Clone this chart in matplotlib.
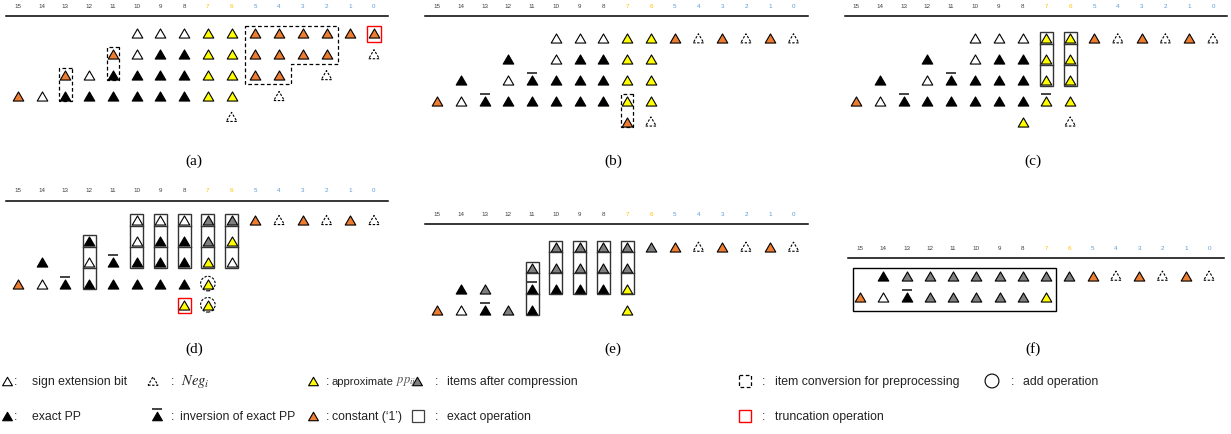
import matplotlib.pyplot as plt
from matplotlib.patches import Rectangle, Polygon
from matplotlib.path import Path

plt.rcParams['mathtext.fontset'] = 'stix'

W, H = 1231, 435
bits = list(range(15, -1, -1))
bit_colors = ['#404040'] * 8 + ['#FFC000'] * 2 + ['#5B9BD5'] * 6

# one string per row, read from bit 15 (left) to bit 0 (right); '.' = empty
# s sign extension, n Neg_i, e exact PP, i inverted exact PP,
# a approximate pp, j inverted approximate pp, c constant '1', g compressed item
rows_a = [".....sssaacccccc",
          "....cseeaacccc.n",
          "..cseeeeaacc.n..",
          "cseeeeeeaa.n....",
          ".........n......"]
rows_b = [".....sssaacncncn",
          "...e.seeaa......",
          ".e.sieeeaa......",
          "csieeeeeaa......",
          "........cn......"]
rows_c = [".....sssaacncncn",
          "...e.seeaa......",
          ".e.sieeeaa......",
          "csieeeeeja......",
          ".......a.n......"]
rows_d = [".....sssggcncncn",
          "...e.seega......",
          ".e.sieeeas......",
          "csieeeeea.......",
          ".......aa......."]
rows_e = [".....gggggcncncn",
          "....ggggg.......",
          ".eg.ieeea.......",
          "csige...a......."]
rows_f = [".eggggggggcncncn",
          "csiggggga......."]

# operations: (bit, first row, last row) / (bit, row)
exact_c = [(7, 0, 2), (6, 0, 2)]
exact_d = [(12, 1, 3), (10, 0, 2), (9, 0, 2), (8, 0, 2), (7, 0, 2), (6, 0, 2)]
exact_e = [(11, 1, 3), (10, 0, 2), (9, 0, 2), (8, 0, 2), (7, 0, 2)]
group_f = [(15, 7, 0, 1)]
prep_a = [(11, 1, 2), (13, 2, 3)]
prep_b = [(7, 3, 4)]
prep_area_a = [(5.45, -0.37), (1.5, -0.37), (1.5, 1.48), (3.5, 1.48), (3.5, 2.43), (5.45, 2.43)]
trunc_a = [(0, 0)]
trunc_d = [(8, 4)]
add_d = [(7, 3), (7, 4)]

STYLE = {
    's': ('white', 'solid'),
    'n': ('white', (0, (2.2, 1.4))),
    'e': ('black', 'solid'),
    'i': ('black', 'solid'),
    'a': ('#FFFF00', 'solid'),
    'j': ('#FFFF00', 'solid'),
    'c': ('#ED7D31', 'solid'),
    'g': ('#7F7F7F', 'solid'),
}
TRI = Path([(-1, -0.86), (1, -0.86), (0, 0.86), (-1, -0.86)],
           [Path.MOVETO, Path.LINETO, Path.LINETO, Path.CLOSEPOLY])

fig = plt.figure(figsize=(W / 100, H / 100), dpi=100)


def tri(ax, xs, ys, kind, dx, dy, s=58):
    fc, ls = STYLE[kind]
    ax.scatter(xs, ys, s=s, marker=TRI, facecolor=fc, edgecolor='black',
               linewidths=0.8, linestyles=ls, zorder=3)
    if kind in 'ij':
        for x, y in zip(xs, ys):
            ax.plot([x - 5 / dx, x + 5 / dx], [y - 7 / dy] * 2, color='#222222',
                    lw=1.2, solid_capstyle='butt', zorder=3)


def panel(rows, x15, x0, y0, dy, ylab, yline, line, cap, name,
          exact=(), prep=(), area=None, trunc=(), adds=(), group=()):
    dx = (x0 - x15) / 15
    ax = fig.add_axes([0, 0, 1, 1])
    ax.set_xlim(15 + x15 / dx, 15 - (W - x15) / dx)
    ax.set_ylim((H - y0) / dy, -y0 / dy)
    ax.axis('off')
    ax.patch.set_visible(False)

    for b, col in zip(bits, bit_colors):
        ax.text(b, (ylab - y0) / dy, str(b), ha='center', va='center',
                fontsize=4.5, color=col, family='Liberation Sans')
    ax.plot([15 + (x15 - line[0]) / dx, 15 - (line[1] - x15) / dx],
            [(yline - y0) / dy] * 2, color='black', lw=1.1)

    for kind in STYLE:
        xs, ys = [], []
        for r, row in enumerate(rows):
            for k, ch in enumerate(row):
                if ch == kind:
                    xs.append(15 - k)
                    ys.append(r)
        if xs:
            tri(ax, xs, ys, kind, dx, dy)

    for b, r0, r1 in exact:
        top, bot = r0 - 6 / dy, r1 + 5.7 / dy
        ax.add_patch(Rectangle((b - 6.5 / dx, top), 13 / dx, bot - top, fill=False,
                               ec='#333333', lw=1.0, zorder=4))
        for r in range(r0, r1):
            ax.plot([b - 6.5 / dx, b + 6.5 / dx], [r + 5.7 / dy] * 2, color='#333333',
                    lw=1.0, zorder=4)
    for b0, b1, r0, r1 in group:
        top, bot = r0 - 7.5 / dy, r1 + 14 / dy
        ax.add_patch(Rectangle((b1 - 10 / dx, top), (b0 - b1) + 17.5 / dx, bot - top,
                               fill=False, ec='black', lw=1.0, zorder=4))
    for b, r0, r1 in prep:
        top, bot = r0 - 7 / dy, r1 + 5 / dy
        ax.add_patch(Rectangle((b - 6.3 / dx, top), 12.6 / dx, bot - top, fill=False,
                               ec='black', lw=0.9, ls=(0, (3, 2)), zorder=4))
    if area:
        ax.add_patch(Polygon(area, closed=True, fill=False, ec='black', lw=0.9,
                             ls=(0, (3, 2)), zorder=4))
    for b, r in trunc:
        ax.add_patch(Rectangle((b - 6.6 / dx, r - 7 / dy), 13.2 / dx, 15.5 / dy,
                               fill=False, ec='#FF0000', lw=1.0, zorder=4))
    for b, r in adds:
        ax.scatter([b], [r], s=110, marker='o', facecolor='none', edgecolor='black',
                   linewidths=0.8, linestyles=(0, (2.2, 1.4)), zorder=4)

    fig.text(cap[0] / W, 1 - cap[1] / H, name, ha='center', va='center',
             fontsize=11, family='Liberation Serif')


panel(rows_a, 18, 374, 34.3, 20.9, 6, 17.3, (6, 388), (194, 161), '(a)',
      prep=prep_a, area=prep_area_a, trunc=trunc_a)
panel(rows_b, 437, 793.5, 39.3, 20.8, 6, 17.3, (425, 808), (613, 161), '(b)',
      prep=prep_b)
panel(rows_c, 856, 1213, 39.3, 20.8, 6, 17.3, (845, 1227), (1033, 161), '(c)',
      exact=exact_c)
panel(rows_d, 18, 374, 221, 21.2, 190.7, 201.7, (6, 388), (194, 349), '(d)',
      exact=exact_d, trunc=trunc_d, adds=add_d)
panel(rows_e, 437, 793.5, 247.7, 21, 214.3, 225, (425, 808), (613, 349), '(e)',
      exact=exact_e)
panel(rows_f, 860, 1209, 276.7, 21, 249, 259.3, (848, 1224), (1033, 349), '(f)',
      group=group_f)

# legend
legend_row1 = [('s', 'sign extension bit'), ('n', '$Neg_i$'),
               ('a', 'approximate'), ('g', 'items after compression'),
               ('prep', 'item conversion for preprocessing'), ('add', 'add operation')]
legend_row2 = [('e', 'exact PP'), ('i', 'inversion of exact PP'),
               ('c', 'constant (\u20181\u2019)'), ('exact', 'exact operation'),
               ('trunc', 'truncation operation')]
leg_x1 = [(7, 16, 32), (153, 173, 181), (313, 328, 332), (417, 437, 447),
          (745, 764, 775), (992, 1013, 1023)]
leg_x2 = [(7, 16, 32), (157, 173, 180), (313, 328, 332), (418, 437, 447),
          (745, 764, 775)]

lg = fig.add_axes([0, 0, 1, 1])
lg.set_xlim(0, W)
lg.set_ylim(H, 0)
lg.axis('off')
lg.patch.set_visible(False)
font = 'Liberation Sans'
fs = 8.8
for entries, xs, y in ((legend_row1, leg_x1, 382), (legend_row2, leg_x2, 417)):
    for (kind, label), (xs_, xc, xt) in zip(entries, xs):
        if kind in STYLE:
            tri(lg, [xs_], [y], kind, 1, 1, s=50)
        elif kind == 'prep':
            lg.add_patch(Rectangle((xs_ - 6, y - 6), 12, 12, fill=False, ec='black',
                                   lw=0.9, ls=(0, (3, 2))))
        elif kind == 'add':
            lg.scatter([xs_], [y], s=100, marker='o', facecolor='none', edgecolor='black',
                       linewidths=0.8)
        elif kind == 'exact':
            lg.add_patch(Rectangle((xs_ - 6, y - 6), 12, 12, fill=False, ec='#404040', lw=0.9))
        elif kind == 'trunc':
            lg.add_patch(Rectangle((xs_ - 6, y - 6), 12, 12, fill=False, ec='#FF0000', lw=1.0))
        lg.text(xc, y, ':', ha='center', va='center', fontsize=fs, family=font, color='#222222')
        if label.startswith('$'):
            size = 10.5
        elif label == 'approximate':
            size = 8.1
        else:
            size = fs
        lg.text(xt, y, label, ha='left', va='center', fontsize=size, family=font,
                color='#222222')
lg.text(396.5, 382, '$pp_{ij}$', ha='left', va='center', fontsize=9, color='#555555')

fig.savefig('out.png', dpi=100, facecolor='white')
